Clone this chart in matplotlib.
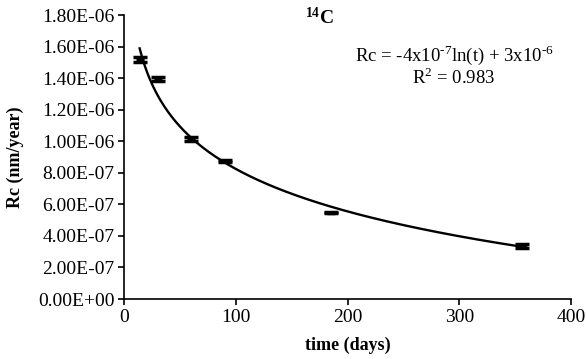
import matplotlib
matplotlib.use('Agg')
import matplotlib.pyplot as plt
import numpy as np

plt.rcParams['font.family'] = 'Liberation Serif'
plt.rcParams['mathtext.fontset'] = 'custom'
plt.rcParams['mathtext.rm'] = 'Liberation Serif'
plt.rcParams['mathtext.bf'] = 'Liberation Serif:bold'

# measured points (days, nm/year)
days = [14, 30, 60, 90, 185, 356]
rc = [1.519e-6, 1.394e-6, 1.014e-6, 0.876e-6, 0.547e-6, 0.336e-6]
rc_err = [1.5e-8, 1.5e-8, 1.2e-8, 0.6e-8, 0.5e-8, 1.0e-8]

yticks = np.arange(0, 1.81e-6, 2e-7)
ytick_labels = ['0.00E+00', '2.00E-07', '4.00E-07', '6.00E-07', '8.00E-07',
                '1.00E-06', '1.20E-06', '1.40E-06', '1.60E-06', '1.80E-06']
xticks = [0, 100, 200, 300, 400]

fig = plt.figure(figsize=(5.86, 3.59), dpi=100)
ax = fig.add_axes([124/586, 1 - 299/359, 447/586, 284/359])

# log trendline fitted to the points
a, b = np.polyfit(np.log(days), rc, 1)
t = np.linspace(min(days), max(days) + 4, 300)
ax.plot(t, a*np.log(t) + b, color='black', lw=1.7)

ax.errorbar(days, rc, yerr=rc_err, fmt='_', color='black', ms=6, mew=2.5,
            ecolor='black', elinewidth=2, capsize=5, capthick=2)

ax.set_xlim(0, 400)
ax.set_ylim(0, 1.8e-6)
ax.set_xticks(xticks)
ax.set_xticklabels([str(x) for x in xticks])
ax.set_yticks(yticks)
ax.set_yticklabels(ytick_labels)
ax.tick_params(labelsize=14, length=4, width=1.2, colors='black', pad=3)
for s in ['top', 'right']:
    ax.spines[s].set_visible(False)
for s in ['left', 'bottom']:
    ax.spines[s].set_linewidth(1.2)

ax.set_xlabel('time (days)', fontsize=13, fontweight='bold', labelpad=8)
ax.set_ylabel('Rc (nm/year)', fontsize=13, fontweight='bold', labelpad=10)

fig.text(319/586, 1 - 17/359, r'$\mathbf{^{14}C}$', ha='center', va='center', fontsize=14)
ax.text(454/586, 1 - 55/359,
        r'Rc = -4x10$^{\text{-}7}$ln(t) + 3x10$^{\text{-}6}$', transform=fig.transFigure,
        ha='center', va='center', fontsize=13.5)
ax.text(454/586, 1 - 78/359, r'R$^{2}$ = 0.983', transform=fig.transFigure,
        ha='center', va='center', fontsize=13.5)

fig.savefig('out.png', dpi=100)
